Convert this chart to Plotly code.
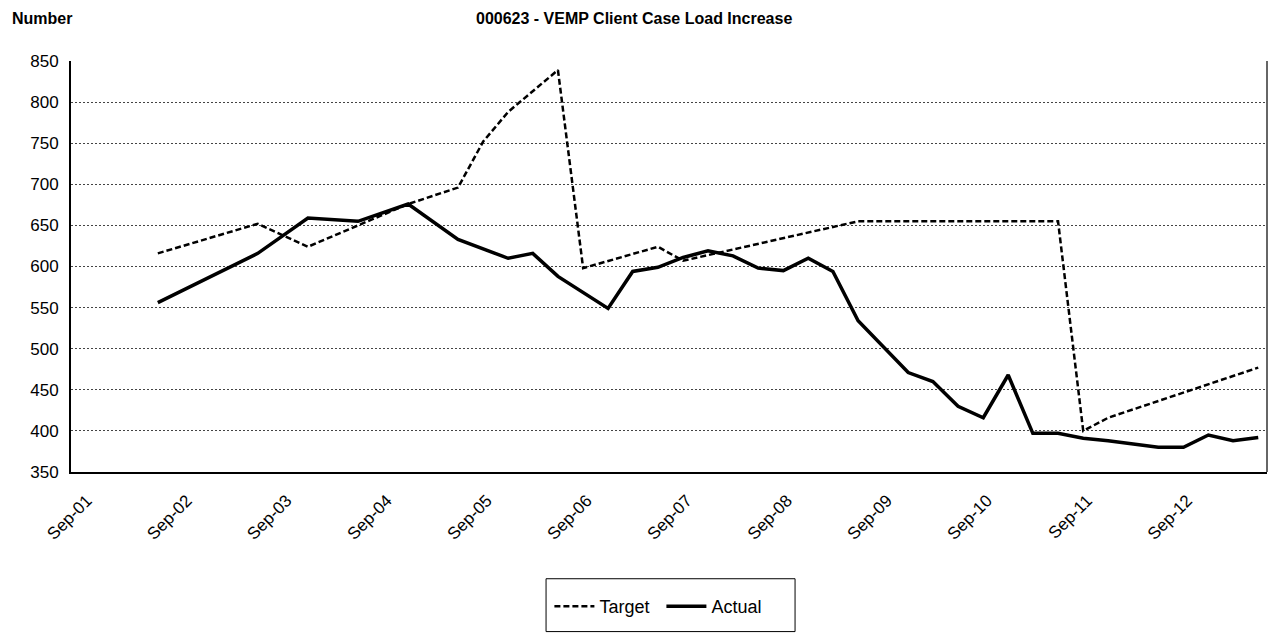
import plotly.graph_objects as go

# Quarter index k -> date: k=0 is Jun-2002, each step one quarter
target_k = [0, 4, 6, 8, 10, 12, 13, 14, 16, 17, 20, 21, 28, 36, 37, 38, 44]
target_v = [616, 652, 624, 650, 676, 696, 752, 788, 839, 598, 624, 607, 655, 655, 400, 416, 477]

actual_k = [0, 4, 6, 8, 10, 12, 14, 15, 16, 18, 19, 20, 21, 22, 23, 24, 25, 26, 27, 28,
            30, 31, 32, 33, 34, 35, 36, 37, 38, 39, 40, 41, 42, 43, 44]
actual_v = [556, 616, 659, 655, 676, 633, 610, 616, 588, 549, 594, 599, 611, 619, 613, 598, 595, 610, 594, 534,
            471, 460, 430, 416, 468, 397, 397, 391, 388, 384, 380, 380, 395, 388, 392]

tick_years = list(range(2001, 2013))
y_ticks = [350, 400, 450, 500, 550, 600, 650, 700, 750, 800, 850]


def k_to_date(k):
    m = 6 + 3 * k - 1
    return f"{2002 + m // 12}-{m % 12 + 1:02d}-01"


target_x = [k_to_date(k) for k in target_k]
actual_x = [k_to_date(k) for k in actual_k]
tick_vals = [f"{y}-09-15" for y in tick_years]
tick_text = [f"Sep-{y % 100:02d}" for y in tick_years]

FONT = "Liberation Sans, Arial, sans-serif"

fig = go.Figure()
fig.add_trace(go.Scatter(x=target_x, y=target_v, name="Target", mode="lines",
                         line=dict(color="black", width=2.5, dash="6px,3px")))
fig.add_trace(go.Scatter(x=actual_x, y=actual_v, name="Actual", mode="lines",
                         line=dict(color="black", width=3.5)))

fig.update_layout(
    width=1270, height=627,
    margin=dict(l=63, r=11, t=53, b=162),
    paper_bgcolor="white", plot_bgcolor="white",
    font=dict(family=FONT, size=16, color="black"),
    showlegend=True,
    legend=dict(orientation="h", x=0.400, xanchor="left", y=-0.324, yanchor="middle",
                borderwidth=0, font=dict(size=18), bgcolor="rgba(0,0,0,0)",
                itemwidth=40, entrywidth=57, traceorder="normal"),
    annotations=[
        dict(text="<b>Number</b>", xref="paper", yref="paper", x=-0.051, y=1.104,
             xanchor="left", yanchor="middle", showarrow=False, font=dict(size=16)),
        dict(text="<b>000623 - VEMP Client Case Load Increase</b>", xref="paper", yref="paper",
             x=0.4707, y=1.104, xanchor="center", yanchor="middle", showarrow=False, font=dict(size=16)),
    ],
    shapes=[
        dict(type="line", xref="paper", yref="paper", x0=1, x1=1, y0=0, y1=1,
             line=dict(color="#333", width=1.5)),
        dict(type="rect", xref="paper", yref="paper", x0=0.3972, x1=0.6054, y0=-0.2597, y1=-0.3883,
             line=dict(color="black", width=1)),
    ],
)
fig.update_xaxes(type="date", range=["2001-07-19", "2013-07-03"],
                 tickvals=tick_vals, ticktext=tick_text, tickangle=-45,
                 showgrid=False, showline=True, linecolor="black", linewidth=2,
                 ticks="", tickfont=dict(size=17), ticklabelstandoff=10)
fig.update_yaxes(range=[350, 850], tickvals=y_ticks, showgrid=True,
                 gridcolor="#444", griddash="2px,2px", gridwidth=1,
                 showline=True, linecolor="black", linewidth=2, ticks="",
                 tickfont=dict(size=17), zeroline=False, ticklabelstandoff=7)

fig.write_html("out.html")
